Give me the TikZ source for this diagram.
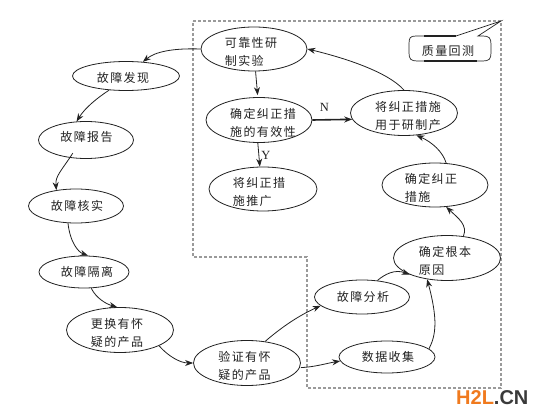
\documentclass[tikz,border=0pt]{standalone}
\usepackage{fontspec}
\setmainfont[LetterSpace=12]{Noto Sans CJK SC}
\newfontfamily\latinf{Liberation Serif}
\newfontfamily\markf{Liberation Sans}
\usetikzlibrary{arrows.meta,shapes.geometric}
\definecolor{ink}{HTML}{222222}
\definecolor{dashgrey}{HTML}{9A9A9A}
\definecolor{wmo}{HTML}{F07A1E}
\definecolor{wmd}{HTML}{3A3A3A}
\newcommand\tl[3]{\makebox[0pt][c]{\hspace*{#1pt}\raisebox{#2pt}[0pt][0pt]{\def\arraystretch{1.28}\begin{tabular}[c]{@{}l@{}}#3\end{tabular}}}}
\tikzset{
  ell/.style 2 args={draw=ink,line width=0.8pt,ellipse,inner sep=0pt,minimum width=#1pt,minimum height=#2pt,text=ink,font=\fontsize{12}{14.4}\selectfont},
  conn/.style={draw=ink,line width=0.8pt,-{Stealth[length=8pt,width=6pt]}},
  lat/.style={font=\latinf\fontsize{12.5}{14}\selectfont,text=ink,inner sep=0pt}
}
\begin{document}
\begin{tikzpicture}[x=1pt,y=-1pt]
\useasboundingbox (0,0) rectangle (542,420);
\fill[white] (0,0) rectangle (542,420);
% dashed region
\draw[dashgrey,line width=1.2pt,dash pattern=on 3pt off 2pt] (193,21) -- (501,21) -- (501,388) -- (307,388) -- (307,257) -- (193,257) -- cycle;
% callout
\node[inner sep=0pt,text=ink,font=\fontsize{12}{14.4}\selectfont] (qa) at (448,51) {质量回测};
\draw[ink,line width=0.7pt] (424,36) -- (416,36) .. controls (410,36) and (409,38) .. (409,44) -- (409,53) .. controls (409,59) and (411,61) .. (417,61) -- (483,61) .. controls (489,61) and (491,59) .. (491,53) -- (491,44) .. controls (491,38) and (489,36) .. (483,36) -- (478,36) -- (501,21) -- (456,36) -- cycle;
\draw[ink,line width=1.3pt] (424,36) -- (456,36);
\draw[ink,line width=1.3pt] (424,61) -- (477,61);
% nodes
\node[ell={106}{44}] (rel) at (254,49) {\tl{-6}{-7}{可靠性研\\制实验}};
\node[ell={106}{45}] (qr) at (259,120) {\tl{8}{-7}{确定纠正措\\施的有效性}};
\node[ell={108}{44}] (tg) at (263,189) {\tl{-8}{-7}{将纠正措\\施推广}};
\node[ell={107}{45}] (jz) at (404,113) {\tl{8}{-7}{将纠正措施\\用于研制产}};
\node[ell={106}{44}] (qd) at (435,185) {\tl{-8}{-7}{确定纠正\\措施}};
\node[ell={107}{45}] (gen) at (447,258) {\tl{-4}{-7}{确定根本\\原因}};
\node[ell={95}{34}] (fa) at (362,297) {\tl{2}{-4}{故障分析}};
\node[ell={96}{32}] (sj) at (387,357) {\tl{2}{-4}{数据收集}};
\node[ell={107}{45}] (yz) at (247,363) {\tl{-5}{-7}{验证有怀\\疑的产品}};
\node[ell={107}{29}] (fx) at (126,76) {\tl{-6}{-6}{故障发现}};
\node[ell={95}{37}] (bg) at (86,140) {\tl{1}{-1}{故障报告}};
\node[ell={95}{34}] (hs) at (76,206) {\tl{2}{-4}{故障核实}};
\node[ell={90}{32}] (gl) at (84,272) {\tl{6}{-4}{故障隔离}};
\node[ell={107}{45}] (gh) at (120,330) {\tl{-6}{-7}{更换有怀\\疑的产品}};
% left chain
\draw[conn] (rel.west) .. controls (172,48) and (155,52) .. (fx.40);
\draw[conn] (fx.-140) .. controls (97,98) and (85,108) .. (bg.117);
\draw[conn] ([yshift=5pt]bg.-126) .. controls (62,170) and (55,176) .. (hs.141);
\draw[conn] (hs.-115) .. controls (70,242) and (78,252) .. (gl.76);
\draw[conn] (gl.-66) .. controls (96,298) and (106,304) .. (gh.97);
\draw[conn] (gh.-22) .. controls (168,356) and (180,363) .. (yz.west);
% right part
\draw[conn] (yz.50) .. controls (283,326) and (300,315) .. (fa.192);
\draw[conn] ([xshift=1pt]yz.-5) .. controls (315,367) and (328,363) .. (sj.-175);
\draw[conn] (sj.11) .. controls (436,335) and (438,320) .. (gen.-133);
\draw[conn] (fa.47) .. controls (385,274) and (395,269) .. (gen.204);
\draw[conn] (gen.53) .. controls (468,225) and (458,218) .. (qd.-63);
\draw[conn] (qd.63) .. controls (443,152) and (432,142) .. (jz.-61);
\draw[conn] (jz.north) .. controls (388,72) and (345,58) .. (rel.east);
\draw[conn,shorten >=2pt] (rel.-86) -- (qr.93);
\draw[conn] (qr.-93) -- node[lat,pos=0.5,xshift=7pt,yshift=-1pt] (ly) {Y} (tg.98);
\draw[conn,line width=1.6pt] (qr.east) -- node[lat,pos=0.3,yshift=12pt] (ln) {N} (jz.187);
% watermark
\node[inner sep=0pt,anchor=base west,font=\markf\fontsize{20}{22}\bfseries\selectfont] (wm) at (456,404) {\textcolor{wmo}{H2L}\textcolor{wmd}{.CN}};
\end{tikzpicture}
\end{document}
